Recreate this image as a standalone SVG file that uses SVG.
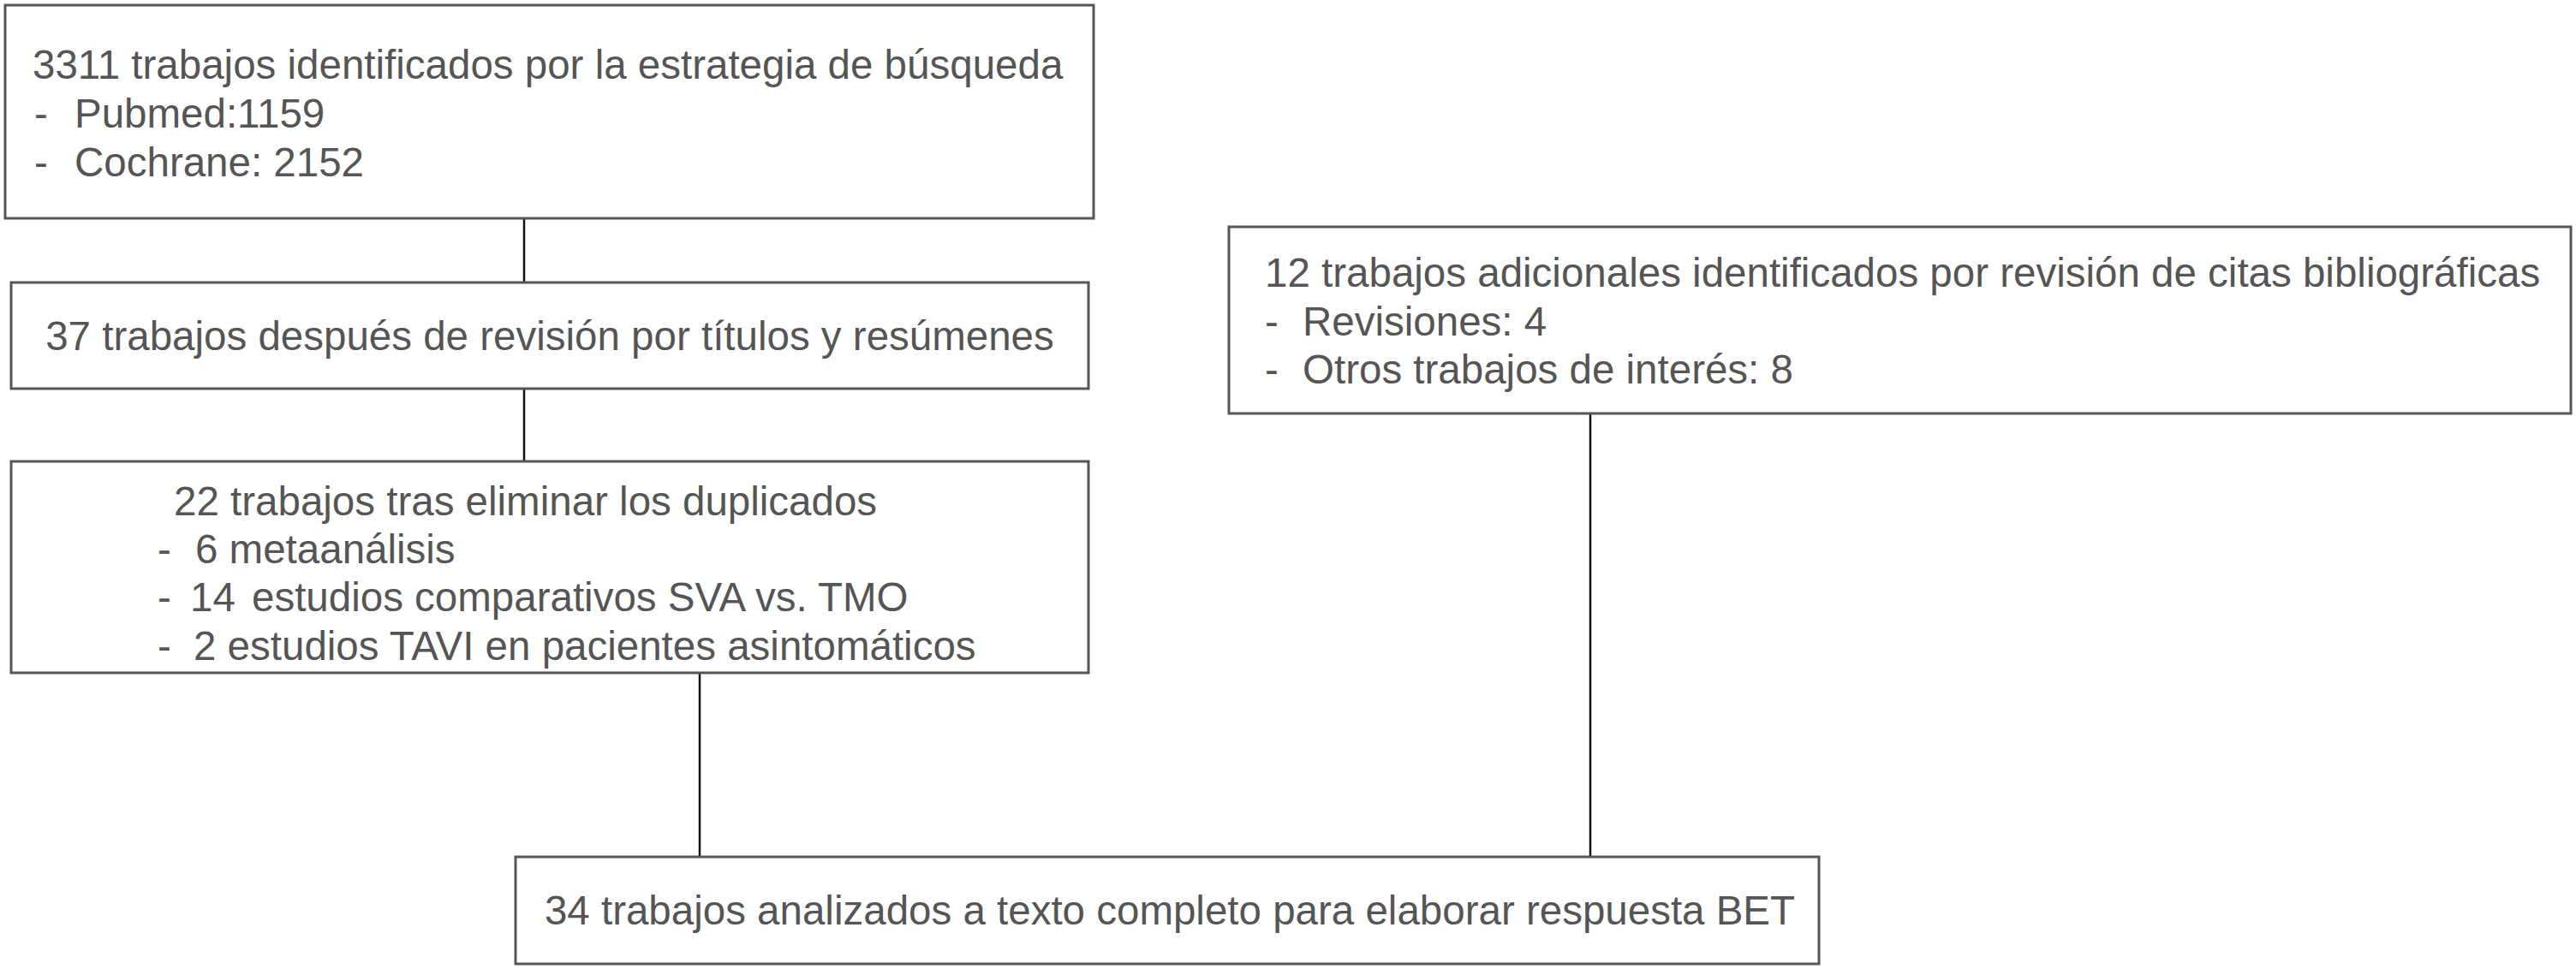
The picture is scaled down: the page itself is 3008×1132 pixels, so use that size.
<svg xmlns="http://www.w3.org/2000/svg" width="3008" height="1132" viewBox="0 0 3008 1132">
<style>
.box{fill:#fff;stroke:#555;stroke-width:3}
.t{font-family:"Liberation Sans",Arial,sans-serif;font-size:47.5px;fill:#555}
.c{stroke:#111;stroke-width:2.5;fill:none}
</style>
<rect width="3008" height="1132" fill="#fff"/>
<g id="connectors">
<line class="c" x1="612" y1="255" x2="612" y2="330"/>
<line class="c" x1="612" y1="454" x2="612" y2="539"/>
<line class="c" x1="817" y1="786" x2="817" y2="1001"/>
<line class="c" x1="1857" y1="483" x2="1857" y2="1001"/>
</g>
<g id="n1">
<rect class="box" x="6" y="6" width="1271" height="249"/>
<text class="t" x="38" y="92">3311 trabajos identificados por la estrategia de búsqueda</text>
<text class="t" x="40" y="149">-</text><text class="t" x="87" y="149">Pubmed:1159</text>
<text class="t" x="40" y="206">-</text><text class="t" x="87" y="206">Cochrane: 2152</text>
</g>
<g id="n2">
<rect class="box" x="13" y="330" width="1258" height="124"/>
<text class="t" x="642" y="409" text-anchor="middle">37 trabajos después de revisión por títulos y resúmenes</text>
</g>
<g id="n3">
<rect class="box" x="13" y="539" width="1258" height="247"/>
<text class="t" x="203" y="602">22 trabajos tras eliminar los duplicados</text>
<text class="t" x="184" y="658">-</text><text class="t" x="228" y="658">6 metaanálisis</text>
<text class="t" x="184" y="714">-</text><text class="t" x="222" y="714">14</text><text class="t" x="294" y="714">estudios comparativos SVA vs. TMO</text>
<text class="t" x="184" y="771">-</text><text class="t" x="226" y="771">2 estudios TAVI en pacientes asintomáticos</text>
</g>
<g id="n4">
<rect class="box" x="1435" y="265" width="1567" height="218"/>
<text class="t" x="1477" y="335">12 trabajos adicionales identificados por revisión de citas bibliográficas</text>
<text class="t" x="1477" y="392">-</text><text class="t" x="1521" y="392">Revisiones: 4</text>
<text class="t" x="1477" y="448">-</text><text class="t" x="1521" y="448">Otros trabajos de interés: 8</text>
</g>
<g id="n5">
<rect class="box" x="602" y="1001" width="1522" height="125"/>
<text class="t" x="1366" y="1080" text-anchor="middle">34 trabajos analizados a texto completo para elaborar respuesta BET</text>
</g>
</svg>
